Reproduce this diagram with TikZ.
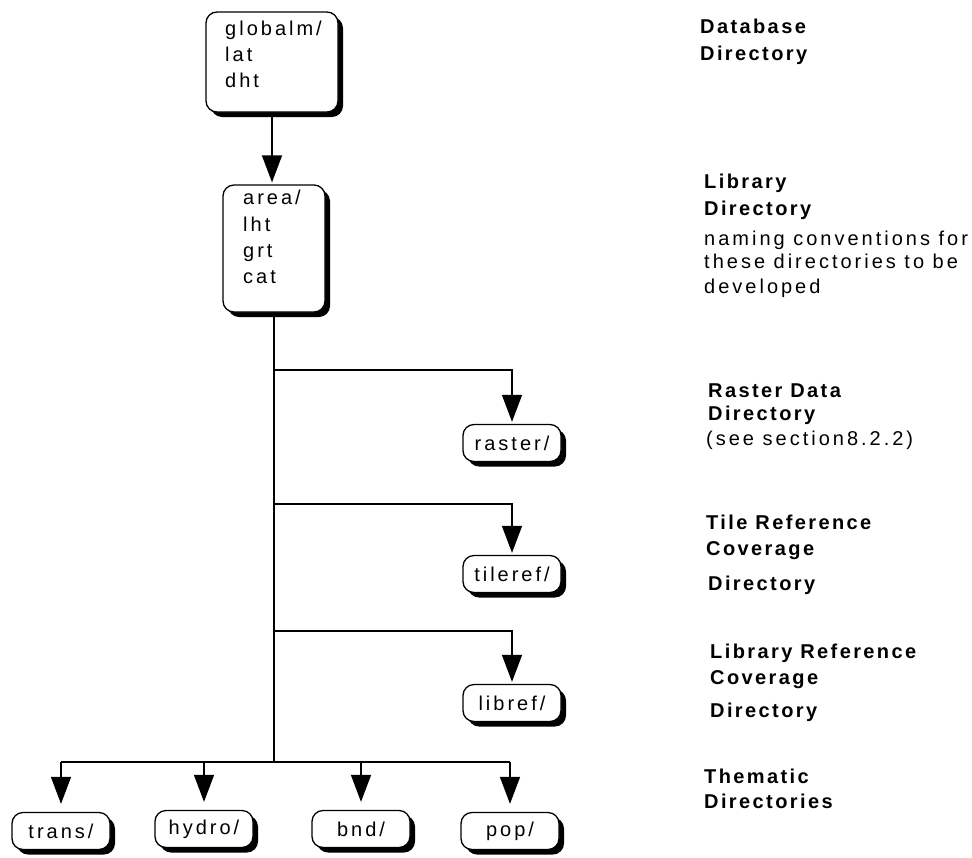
\documentclass[tikz,border=0pt]{standalone}
\usepackage{fontspec}
\setmainfont{Liberation Sans}
\newfontfamily\dirfont[LetterSpace=15]{Liberation Sans}
\newfontfamily\hdfont[LetterSpace=12]{Liberation Sans}
\usetikzlibrary{arrows.meta, calc, shadows}

\tikzset{
  dirbox/.style={draw=black, fill=white, line width=1.3pt, rounded corners=11pt,
    drop shadow={shadow xshift=5pt, shadow yshift=-5pt, fill=black, opacity=1}},
  smallbox/.style={dirbox, minimum width=98pt, minimum height=37pt, inner sep=0pt,
    font=\dirfont\fontsize{20}{24}\selectfont},
  boxtxt/.style={anchor=base west, inner sep=0pt, font=\dirfont\fontsize{20}{24}\selectfont},
  hdtxt/.style={anchor=base west, inner sep=0pt, font=\hdfont\bfseries\fontsize{20}{24}\selectfont},
  arr/.style={line width=1.4pt, -{Triangle[length=27pt, width=20pt]}, shorten >=2pt},
  ln/.style={line width=1.4pt}
}

\begin{document}
\begin{tikzpicture}[x=1pt, y=-1pt]
  \useasboundingbox (0,0) rectangle (972,857);

	% directory boxes
	\node[dirbox, minimum width=132pt, minimum height=100pt] (db) at (272,62) {};
	\node[dirbox, minimum width=102pt, minimum height=127pt] (lib) at (274,248.5) {};

	\node[smallbox] (raster) at (512,443) {raster/};
	\node[smallbox] (tileref) at (512,574) {tileref/};
	\node[smallbox] (libref) at (512,703) {libref/};

	\node[smallbox] (trans) at (61,831) {trans/};
	\node[smallbox] (hydro) at (204,829) {hydro/};
	\node[smallbox] (bnd) at (361,829) {bnd/};
	\node[smallbox] (pop) at (510,831) {pop/};

	\node[boxtxt] (db1) at (225,35) {globalm/};
	\node[boxtxt] (db2) at (225,61) {lat};
	\node[boxtxt] (db3) at (225,87) {dht};
	\node[boxtxt] (lib1) at (243,204) {area/};
	\node[boxtxt] (lib2) at (243,231) {lht};
	\node[boxtxt] (lib3) at (243,257) {grt};
	\node[boxtxt] (lib4) at (243,283) {cat};

	% connectors
	\coordinate (br1) at (274,370);
	\coordinate (br2) at (274,504);
	\coordinate (br3) at (274,631);
	\coordinate (split) at (274,762);

	\draw[arr] (db.south) -- (db.south |- lib.north);
	\draw[ln] (lib.south) -- (split);
	\draw[arr] (br1) -| (raster.north);
	\draw[arr] (br2) -| (tileref.north);
	\draw[arr] (br3) -| (libref.north);
	\draw[ln] (trans.north |- split) -- (pop.north |- split);
	\foreach \d in {trans, hydro, bnd, pop}
		\draw[arr, shorten >=8pt] (\d.north |- split) -- (\d.north);

	% labels on the right
	\node[hdtxt] (dbhd1) at (700,33) {Database};
	\node[hdtxt] (dbhd2) at (700,60) {Directory};
	\node[hdtxt] (libhd1) at (704,188) {Library};
	\node[hdtxt] (libhd2) at (704,215) {Directory};
	\node[boxtxt] (libnt1) at (704,245) {naming conventions for};
	\node[boxtxt] (libnt2) at (704,268) {these directories to be};
	\node[boxtxt] (libnt3) at (704,293) {developed};
	\node[hdtxt] (rashd1) at (708,397) {Raster Data};
	\node[hdtxt] (rashd2) at (708,420) {Directory};
	\node[boxtxt] (rasnt) at (706,445) {(see section8.2.2)};
	\node[hdtxt] (tilehd1) at (706,529) {Tile Reference};
	\node[hdtxt] (tilehd2) at (706,555) {Coverage};
	\node[hdtxt] (tilehd3) at (708,590) {Directory};
	\node[hdtxt] (lrefhd1) at (710,658) {Library Reference};
	\node[hdtxt] (lrefhd2) at (710,684) {Coverage};
	\node[hdtxt] (lrefhd3) at (710,717) {Directory};
	\node[hdtxt] (themhd1) at (704,783) {Thematic};
	\node[hdtxt] (themhd2) at (704,808) {Directories};
\end{tikzpicture}
\end{document}
